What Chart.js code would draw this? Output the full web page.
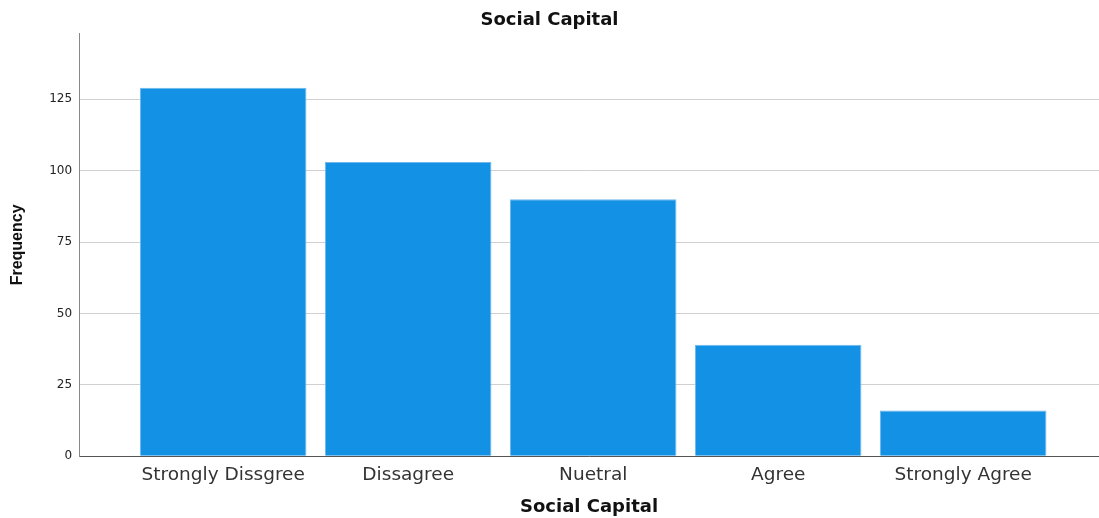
<!DOCTYPE html>
<html>
<head>
<meta charset="utf-8">
<script src="https://cdn.jsdelivr.net/npm/chart.js@4.4.1/dist/chart.umd.min.js"></script>
<style>
  html, body { margin: 0; padding: 0; background: #fff; }
</style>
</head>
<body>
<canvas id="myChart" width="1099" height="518"></canvas>
<script>
const categories = ["Strongly Dissgree", "Dissagree", "Nuetral", "Agree", "Strongly Agree"];
const frequency = [129, 103, 90, 39, 16];
const yTicks = [0, 25, 50, 75, 100, 125];

const ctx = document.getElementById("myChart").getContext('2d');
const myChart = new Chart(ctx, {
    type: 'bar',
    data: {
        datasets: [{
            label: 'Frequency',
            data: categories.map((c, i) => ({ x: i, y: frequency[i] })),
            backgroundColor: '#1391e4',
            borderColor: '#6fb8ee',
            borderWidth: 1,
            barPercentage: 0.9,
            categoryPercentage: 1.0
        }]
    },
    options: {
        responsive: false,
        animation: false,
        layout: { padding: { left: 0, right: 0, top: 0, bottom: 0 } },
        plugins: {
            legend: { display: false },
            tooltip: { enabled: false },
            title: {
                display: true,
                text: 'Social Capital',
                color: '#111',
                font: { family: 'DejaVu Sans', size: 18, weight: 'bold' },
                padding: { top: 10, bottom: 2 }
            }
        },
        scales: {
            x: {
                type: 'linear',
                offset: false,
                min: -0.779,
                max: 4.734,
                grid: { display: false, drawTicks: false },
                border: { display: true, color: '#555', width: 1 },
                afterBuildTicks: (scale) => {
                    scale.ticks = categories.map((c, i) => ({ value: i }));
                },
                ticks: {
                    autoSkip: false,
                    maxRotation: 0,
                    padding: 8,
                    color: '#333',
                    font: { family: 'DejaVu Sans', size: 18.5 },
                    callback: (v) => categories[v]
                },
                title: {
                    display: true,
                    text: 'Social Capital',
                    color: '#111',
                    font: { family: 'DejaVu Sans', size: 18, weight: 'bold' },
                    padding: { top: 2, bottom: 0 }
                }
            },
            y: {
                min: 0,
                max: 148,
                afterBuildTicks: (scale) => {
                    scale.ticks = yTicks.map(v => ({ value: v }));
                },
                grid: { color: '#d0d0d0', drawTicks: false },
                border: { display: true, color: '#888', width: 1 },
                ticks: {
                    padding: 7,
                    color: '#222',
                    font: { family: 'DejaVu Sans', size: 12 }
                },
                title: {
                    display: true,
                    text: 'Frequency',
                    color: '#111',
                    font: { family: 'Liberation Sans', size: 16, weight: 'bold' },
                    padding: { top: 8, bottom: 15 }
                }
            }
        }
    }
});
</script>
</body>
</html>
